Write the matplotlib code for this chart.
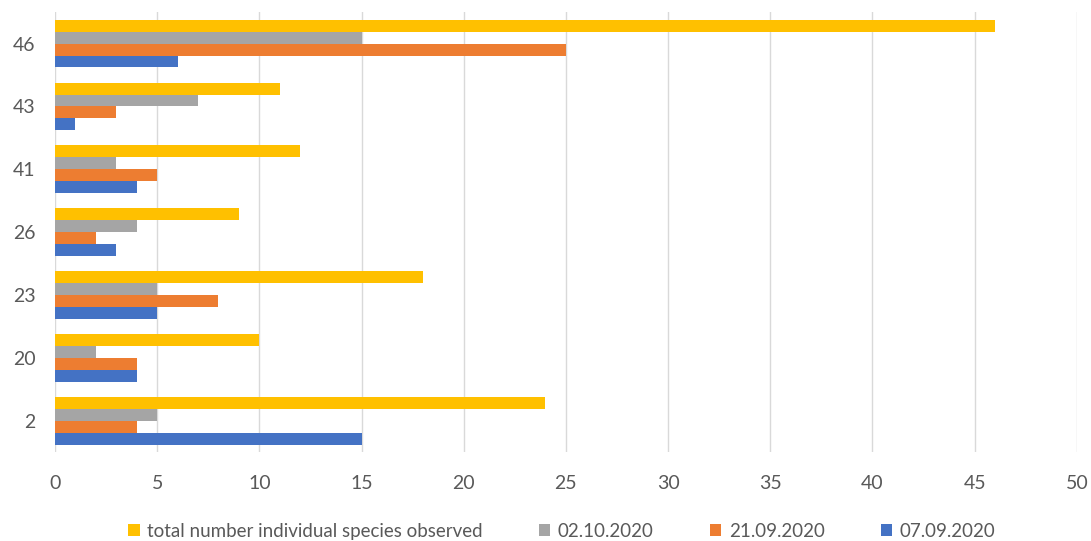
import numpy as np
import matplotlib
matplotlib.use("Agg")
import matplotlib.pyplot as plt

plt.rcParams['font.family'] = ['Lato', 'DejaVu Sans']

# categories (bottom to top)
sites = ['2', '20', '23', '26', '41', '43', '46']

# series values
d_0709 = [15, 4, 5, 3, 4, 1, 6]
d_2109 = [4, 4, 8, 2, 5, 3, 25]
d_0210 = [5, 2, 5, 4, 3, 7, 15]
total = [24, 10, 18, 9, 12, 11, 46]

series = [
    ('07.09.2020', d_0709, '#4472C4'),
    ('21.09.2020', d_2109, '#ED7D31'),
    ('02.10.2020', d_0210, '#A5A5A5'),
    ('total number individual species observed', total, '#FFC000'),
]

fig = plt.figure(figsize=(10.91, 5.41), dpi=100)
ax = fig.add_axes([0.0504, 0.1636, 0.9366, 0.814])

y = np.arange(len(sites))
h = 0.19
handles = {}
for i, (name, vals, col) in enumerate(series):
    offs = (i - 1.5) * h
    b = ax.barh(y + offs, vals, height=h, color=col, label=name, zorder=3)
    handles[name] = b

ax.set_xlim(0, 50)
ax.set_ylim(-0.5, len(sites) - 0.5)
ax.set_xticks(np.arange(0, 51, 5))
ax.set_yticks(y)
ax.set_yticklabels(sites)
ax.grid(axis='x', color='#d9d9d9', linewidth=1, zorder=0)
for s in ax.spines.values():
    s.set_visible(False)
ax.tick_params(axis='both', length=0, labelsize=14, colors='#595959')
ax.tick_params(axis='x', pad=16)
ax.tick_params(axis='y', pad=14)

order = ['total number individual species observed', '02.10.2020', '21.09.2020', '07.09.2020']
leg = fig.legend([handles[k] for k in order], order, loc='center', bbox_to_anchor=(0.515, 0.018),
                 ncol=4, frameon=False, fontsize=13.5, handlelength=0.6, handleheight=0.6,
                 columnspacing=3.0, handletextpad=0.4)
for t in leg.get_texts():
    t.set_color('#595959')

fig.savefig('out.png', dpi=100)
